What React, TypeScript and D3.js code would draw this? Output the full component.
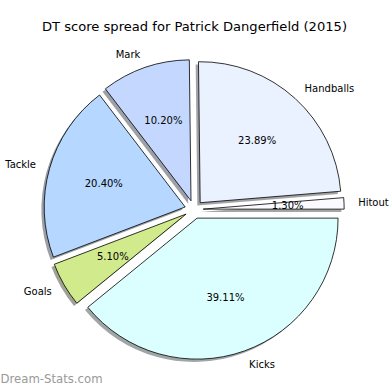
import React from "react";
import * as d3 from "d3";

const labels = ["Hitout", "Handballs", "Mark", "Tackle", "Goals", "Kicks"];
const values = [1.3, 23.89, 10.2, 20.4, 5.1, 39.11];
const colors = ["#fafaff", "#eaf1ff", "#c4d8ff", "#b6d7ff", "#d1ea8c", "#dbffff"];

const W = 390;
const H = 390;
const cx = 194;
const cy = 209.5;
const R = 141;
const explode = 0.065;
const font = "'DejaVu Sans', sans-serif";

type Datum = { label: string; value: number; color: string };

export default function App() {
  const data: Datum[] = labels.map((l, i) => ({ label: l, value: values[i], color: colors[i] }));
  const pie = d3
    .pie<Datum>()
    .value((d) => d.value)
    .sort(null)
    .startAngle(Math.PI / 2)
    .endAngle(Math.PI / 2 - 2 * Math.PI);
  const arcs = pie(data);
  const arc = d3.arc<d3.PieArcDatum<Datum>>().innerRadius(0).outerRadius(R);
  const total = d3.sum(values);

  const shadowColor = (c: string) => {
    const rgb = d3.rgb(c);
    return d3.rgb(rgb.r * 0.3, rgb.g * 0.3, rgb.b * 0.3).toString();
  };

  return (
    <svg width={W} height={H} style={{ position: "absolute", left: 0, top: 0, background: "#fff" }}>
      <rect width={W} height={H} fill="#fff" />
      <text x={194.5} y={31} textAnchor="middle" fontFamily={font} fontSize={13.1} fill="#000">
        DT score spread for Patrick Dangerfield (2015)
      </text>
      {arcs.map((a, i) => {
        const mid = (a.startAngle + a.endAngle) / 2;
        const dx = Math.sin(mid) * explode * R;
        const dy = -Math.cos(mid) * explode * R;
        const x0 = cx + dx;
        const y0 = cy + dy;
        return (
          <g key={"s" + i}>
            <path
              d={arc(a) || ""}
              transform={`translate(${x0 - 0.02 * R},${y0 + 0.02 * R})`}
              fill={shadowColor(a.data.color)}
              fillOpacity={0.5}
            />
          </g>
        );
      })}
      {arcs.map((a, i) => {
        const mid = (a.startAngle + a.endAngle) / 2;
        const sx = Math.sin(mid);
        const sy = -Math.cos(mid);
        const x0 = cx + sx * explode * R;
        const y0 = cy + sy * explode * R;
        const lx = x0 + sx * 1.1 * R;
        const ly = y0 + sy * 1.1 * R;
        const px = x0 + sx * 0.6 * R;
        const py = y0 + sy * 0.6 * R;
        const pct = ((a.data.value / total) * 100).toFixed(2) + "%";
        return (
          <g key={"w" + i}>
            <path
              d={arc(a) || ""}
              transform={`translate(${x0},${y0})`}
              fill={a.data.color}
              stroke="#000"
              strokeWidth={0.8}
              strokeLinejoin="round"
            />
            <text
              x={lx}
              y={ly}
              textAnchor={sx >= 0 ? "start" : "end"}
              dominantBaseline="central"
              fontFamily={font}
              fontSize={10}
              fill="#000"
            >
              {a.data.label}
            </text>
            <text
              x={px}
              y={py}
              textAnchor="middle"
              dominantBaseline="central"
              fontFamily={font}
              fontSize={10}
              fill="#000"
            >
              {pct}
            </text>
          </g>
        );
      })}
      <text x={0.5} y={383} fontFamily={font} fontSize={11.7} fill="#999">
        Dream-Stats.com
      </text>
    </svg>
  );
}
